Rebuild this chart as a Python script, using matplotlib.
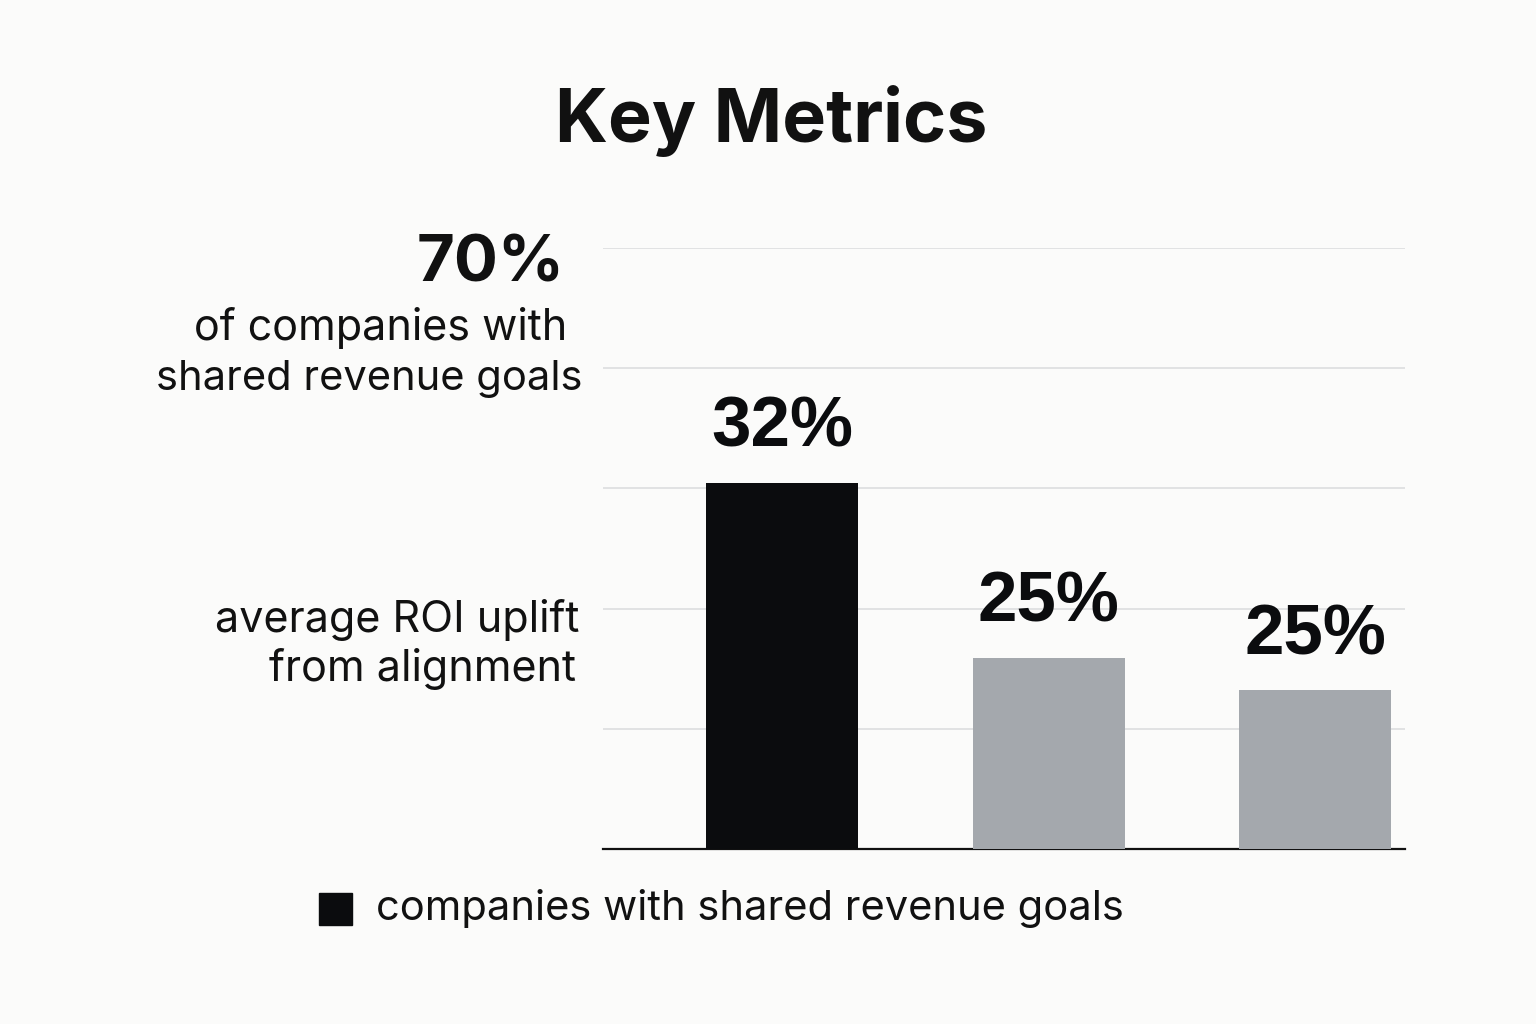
import matplotlib.pyplot as plt
from matplotlib.patches import Rectangle

# data
cats = ["companies with shared revenue goals", "b", "c"]
heights = [30.45, 15.9, 13.2]
labels = ["32%", "25%", "25%"]
colors = ["#0b0c0e", "#a4a8ad", "#a4a8ad"]
yticks = [0, 10, 20, 30, 40, 50]

bg = "#fbfbfa"
fig = plt.figure(figsize=(15.36, 10.24), dpi=100, facecolor=bg)
ax = fig.add_axes([603/1536, 1-849/1024, 802/1536, 601/1024], facecolor=bg)

x = list(range(len(heights)))
ax.bar(x, heights, width=0.57, color=colors, zorder=3)
for xi, h, lab in zip(x, heights, labels):
    ax.annotate(lab, (xi, h), xytext=(0, 26), textcoords="offset points",
                ha="center", va="baseline", fontsize=51, fontweight="bold",
                family="Liberation Sans", color="#0b0c0e")

ax.set_xlim(-0.672, 2.337)
ax.set_ylim(0, 50)
ax.set_yticks(yticks)
ax.grid(axis="y", color="#dcdddf", lw=1.2, zorder=0)
ax.tick_params(left=False, bottom=False, labelleft=False, labelbottom=False)
for s in ["top", "right", "left"]:
    ax.spines[s].set_visible(False)
ax.spines["bottom"].set_linewidth(1.6)
ax.spines["bottom"].set_color("#111111")

fig.text(771/1536, 1-142/1024, "Key Metrics", ha="center", va="baseline",
         fontsize=53, fontweight="bold", family="Inter", color="#111111")

fig.text(565/1536, 1-282/1024, "70%", ha="right", va="baseline",
         fontsize=47, fontweight="bold", family="Inter", color="#111111")
fig.text(567/1536, 1-340/1024, "of companies with", ha="right", va="baseline",
         fontsize=31, family="Inter", color="#111111")
fig.text(583/1536, 1-390/1024, "shared revenue goals", ha="right", va="baseline",
         fontsize=30, family="Inter", color="#111111")
fig.text(579/1536, 1-632/1024, "average ROI uplift", ha="right", va="baseline",
         fontsize=31, family="Inter", color="#111111")
fig.text(576/1536, 1-681/1024, "from alignment", ha="right", va="baseline",
         fontsize=31, family="Inter", color="#111111")

# legend
fig.patches.append(Rectangle((319/1536, 1-925/1024), 33/1536, 32/1024,
                             transform=fig.transFigure, color=colors[0]))
fig.text(376/1536, 1-909/1024, cats[0], ha="left", va="center",
         fontsize=30, family="Inter", color="#111111")

fig.savefig("out.png", dpi=100, facecolor=bg)
